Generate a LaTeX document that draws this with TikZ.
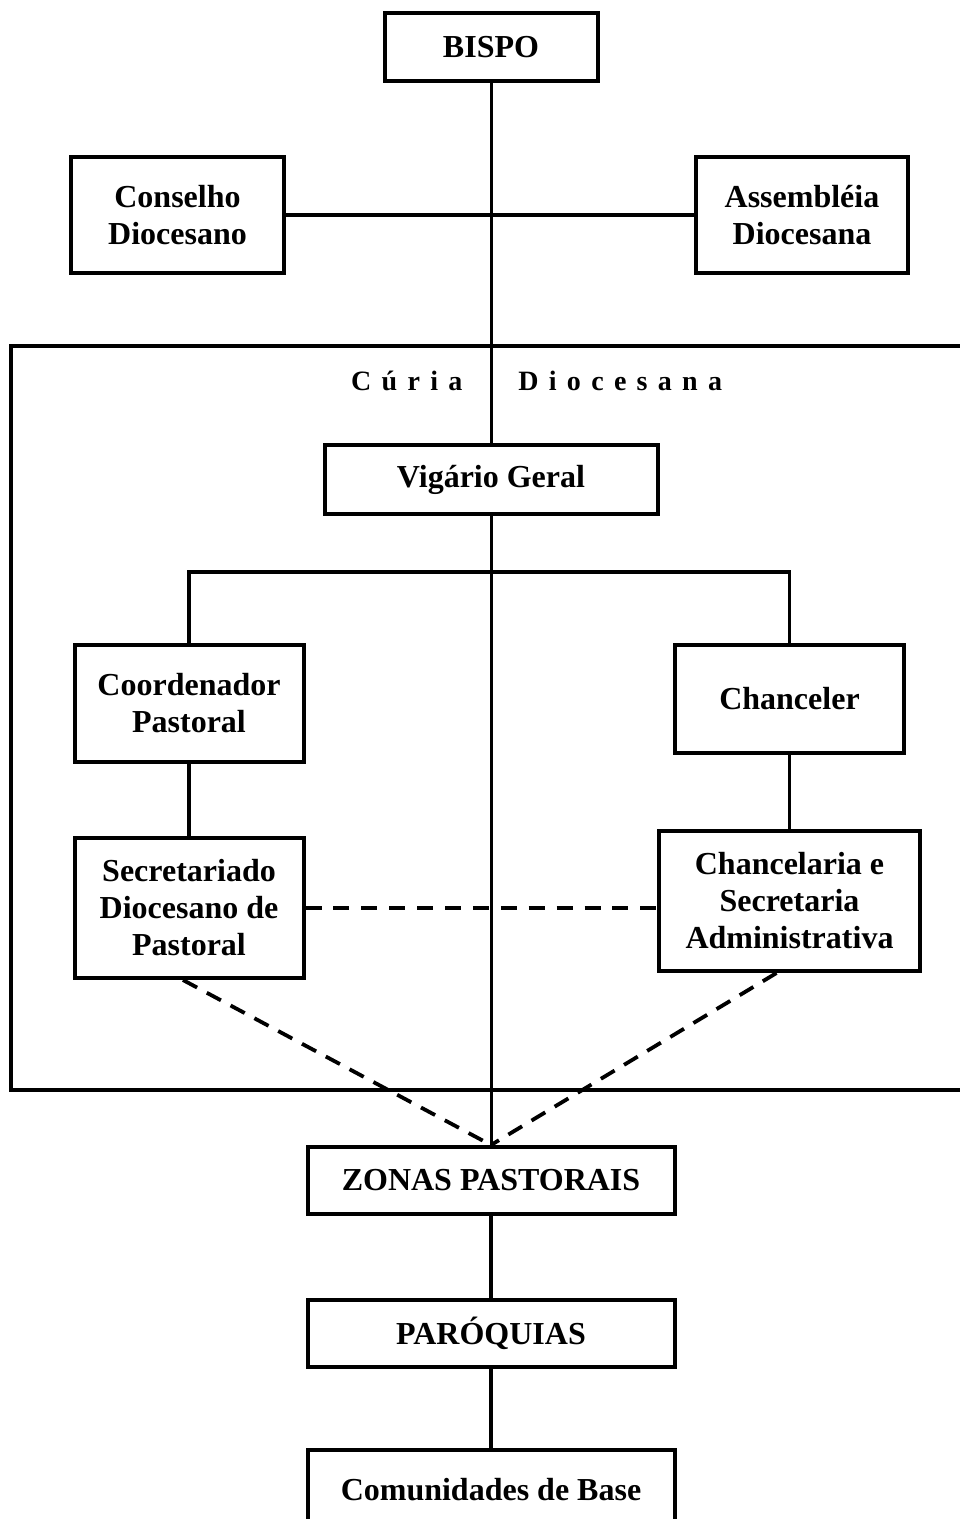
\documentclass[tikz,border=0pt]{standalone}
\usepackage{fontspec}
\setmainfont{Liberation Serif}
\newcommand{\ls}{\kern10.3pt}
\begin{document}
\begin{tikzpicture}[x=1pt,y=-1pt,
  box/.style={draw, line width=4pt, align=center, inner sep=0pt,
    font=\fontsize{32}{37}\selectfont\bfseries},
  conn/.style={line width=3.2pt},
  mainline/.style={line width=3pt},
  dashconn/.style={line width=3.8pt, dash pattern=on 16pt off 11pt}]
\useasboundingbox (0,0) rectangle (960,1519);
\fill[white] (0,0) rectangle (960,1519);
% Curia frame
\draw[line width=4pt] (11,346) rectangle (1000,1090);
\node[anchor=base west, font=\fontsize{28}{30}\selectfont\bfseries, inner sep=0pt] (curia) at (351,390)
  {C\ls ú\ls r\ls i\ls a\kern56pt D\ls i\ls o\ls c\ls e\ls s\ls a\ls n\ls a};
% nodes
\node[box, minimum width=213, minimum height=68] (bispo) at (491,47) {BISPO};
\node[box, minimum width=213, minimum height=116] (cons) at (177.5,215) {Conselho\\Diocesano};
\node[box, minimum width=212, minimum height=116] (ass) at (802,215) {Assembléia\\Diocesana};
\node[box, minimum width=333, minimum height=69] (vig) at (491,479.5) {Vigário Geral};
\node[box, minimum width=229, minimum height=117] (coord) at (189,703.5) {Coordenador\\Pastoral};
\node[box, minimum width=229, minimum height=108] (chanc) at (789.5,699) {Chanceler};
\node[box, minimum width=229, minimum height=140] (sec) at (189,908) {Secretariado\\Diocesano de\\Pastoral};
\node[box, minimum width=261, minimum height=140] (chl) at (789.5,901) {Chancelaria e\\Secretaria\\Administrativa};
\node[box, minimum width=367, minimum height=67] (zonas) at (491,1180.5) {ZONAS PASTORAIS};
\node[box, minimum width=367, minimum height=67] (par) at (491,1333.5) {PARÓQUIAS};
\node[box, minimum width=367, minimum height=80] (com) at (491,1490) {Comunidades de Base};
% connectors
\coordinate (hbar) at (491,572);
\draw[mainline] (bispo.south) -- (vig.north);
\draw[mainline] (vig.south) -- (zonas.north);
\draw[conn] (cons.east) -- (ass.west);
\draw[conn] (coord.north) |- (hbar) -| (chanc.north);
\draw[conn] (coord.south) -- (sec.north);
\draw[conn] (chanc.south) -- (chl.north);
\draw[conn] (zonas.south) -- (par.north);
\draw[conn] (par.south) -- (com.north);
\draw[dashconn, dash pattern=on 16pt off 11.9pt] (sec.east) -- (sec.east -| chl.west);
\draw[dashconn] ([xshift=-6pt]sec.south) -- (zonas.north);
\draw[dashconn] ([xshift=-13pt]chl.south) -- (zonas.north);
\end{tikzpicture}
\end{document}
